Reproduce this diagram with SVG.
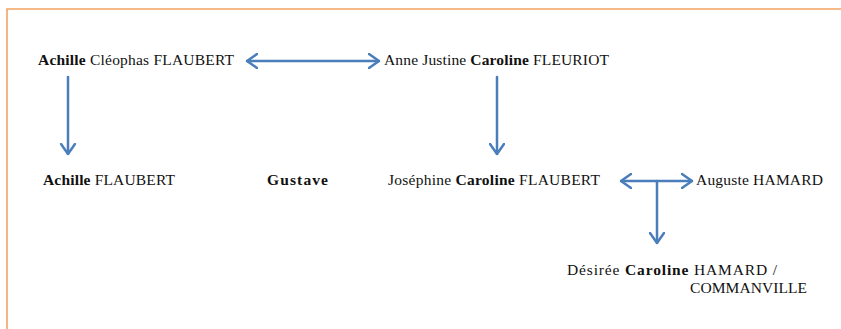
<svg xmlns="http://www.w3.org/2000/svg" width="841" height="329" viewBox="0 0 841 329">
<style>
text{font-family:'Liberation Serif','Times New Roman',serif;font-size:15.5px;fill:#111}
.b{font-weight:bold}
.c{stroke:#4A7EBB;stroke-width:2.5;fill:none;stroke-linecap:round;stroke-linejoin:round}
</style>
<defs>
<marker id="ah" viewBox="0 0 12 16" refX="11" refY="8" markerWidth="12" markerHeight="16" markerUnits="userSpaceOnUse" orient="auto-start-reverse">
<path d="M1,1 L11,8 L1,15" fill="none" stroke="#4A7EBB" stroke-width="2.5" stroke-linecap="round" stroke-linejoin="round"/>
</marker>
</defs>
<rect width="841" height="329" fill="#fff"/>
<path d="M7,329 L7,9 L841,9" fill="none" stroke="#F4A261" stroke-width="1.6"/>
<g id="connectors">
<line class="c" x1="247" y1="61" x2="379" y2="61" marker-start="url(#ah)" marker-end="url(#ah)"/>
<line class="c" x1="68" y1="77" x2="68" y2="154" marker-end="url(#ah)"/>
<line class="c" x1="497" y1="77" x2="497" y2="154" marker-end="url(#ah)"/>
<line class="c" x1="621" y1="181" x2="692" y2="181" marker-start="url(#ah)" marker-end="url(#ah)"/>
<line class="c" x1="657" y1="181" x2="657" y2="243" marker-end="url(#ah)"/>
</g>
<g id="achille-cleophas"><text x="38" y="65" textLength="196" lengthAdjust="spacing"><tspan class="b">Achille</tspan> Cléophas FLAUBERT</text></g>
<g id="anne-caroline"><text x="384" y="65" textLength="225" lengthAdjust="spacing">Anne Justine <tspan class="b">Caroline</tspan> FLEURIOT</text></g>
<g id="achille"><text x="43" y="185" textLength="132" lengthAdjust="spacing"><tspan class="b">Achille</tspan> FLAUBERT</text></g>
<g id="gustave"><text x="267" y="185" class="b" textLength="61" lengthAdjust="spacing">Gustave</text></g>
<g id="josephine"><text x="388" y="185" textLength="212" lengthAdjust="spacing">Joséphine <tspan class="b">Caroline</tspan> FLAUBERT</text></g>
<g id="auguste"><text x="696" y="185" textLength="127" lengthAdjust="spacing">Auguste HAMARD</text></g>
<g id="desiree"><text x="567" y="275" textLength="210" lengthAdjust="spacing">Désirée <tspan class="b">Caroline</tspan> HAMARD /</text><text x="690" y="293" textLength="117" lengthAdjust="spacing">COMMANVILLE</text></g>
</svg>
